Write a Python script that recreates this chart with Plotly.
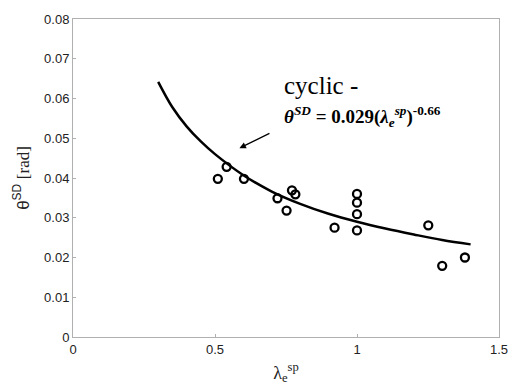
import plotly.graph_objects as go

# Measured data points (lambda_e^sp, theta^SD)
pt_x = [0.51, 0.541, 0.602, 0.72, 0.771, 0.783, 0.752, 0.921, 1.0, 1.0, 1.0, 1.0, 1.251, 1.30, 1.38]
pt_y = [0.0398, 0.0428, 0.0398, 0.0349, 0.0369, 0.0359, 0.0318, 0.0275, 0.0360, 0.0338, 0.0309, 0.0268, 0.0281, 0.0179, 0.0200]

# Fitted curve
fit_x = [0.3, 0.35, 0.4, 0.45, 0.5, 0.6, 0.7, 0.8, 0.9, 1.0, 1.1, 1.2, 1.3, 1.4]
fit_y = [0.0642, 0.0578, 0.0530, 0.0492, 0.0460, 0.0407, 0.0366, 0.0335, 0.0310, 0.0290, 0.0273, 0.0258, 0.0244, 0.0233]

x_ticks = [0, 0.5, 1, 1.5]
x_tick_text = ["0", "0.5", "1", "1.5"]
y_ticks = [0, 0.01, 0.02, 0.03, 0.04, 0.05, 0.06, 0.07, 0.08]
y_tick_text = ["0", "0.01", "0.02", "0.03", "0.04", "0.05", "0.06", "0.07", "0.08"]

fig = go.Figure()
fig.add_trace(go.Scatter(x=fit_x, y=fit_y, mode="lines", line=dict(color="black", width=2.5, shape="spline"),
                         showlegend=False, hoverinfo="skip"))
fig.add_trace(go.Scatter(x=pt_x, y=pt_y, mode="markers",
                         marker=dict(symbol="circle-open", size=8, color="black", line=dict(width=2.3)),
                         showlegend=False))

fig.add_annotation(x=0.586, y=0.0475, ax=0.697, ay=0.0514, xref="x", yref="y", axref="x", ayref="y",
                   text="", showarrow=True, arrowhead=2, arrowsize=1, arrowwidth=1.3, arrowcolor="black")
fig.add_annotation(x=0.735, y=0.0632, xref="x", yref="y", xanchor="left", yanchor="middle",
                   text="cyclic -", showarrow=False,
                   font=dict(family="Liberation Serif", size=25, color="black"))
fig.add_annotation(x=0.735, y=0.0555, xref="x", yref="y", xanchor="left", yanchor="middle",
                   text="<b><i>θ<sup>SD</sup></i> = 0.029(<i>λ<sub>e</sub><sup>sp</sup></i>)<sup>-0.66</sup></b>",
                   showarrow=False,
                   font=dict(family="Liberation Serif", size=19, color="black"))

axis_common = dict(showgrid=False, zeroline=False, showline=True, linecolor="#b0b0b0", linewidth=1,
                   mirror=True, ticks="inside", ticklen=3, tickcolor="#b0b0b0",
                   tickfont=dict(family="Liberation Sans", size=13, color="#222"))

fig.update_xaxes(range=[0, 1.5], tickvals=x_ticks, ticktext=x_tick_text,
                 title=dict(text="λ<sub>e</sub><sup>sp</sup>", standoff=10,
                            font=dict(family="Liberation Serif", size=18, color="#222")),
                 **axis_common)
fig.update_yaxes(range=[0, 0.08], tickvals=y_ticks, ticktext=y_tick_text,
                 title=dict(text="θ<sup>SD</sup> <span style='font-family:Liberation Serif'>[rad]</span>", standoff=10,
                            font=dict(family="Liberation Sans", size=17, color="#222")),
                 **axis_common)

fig.update_layout(width=520, height=391, margin=dict(l=73, r=12, t=14, b=52),
                  plot_bgcolor="white", paper_bgcolor="white")

fig.write_html("out.html")
